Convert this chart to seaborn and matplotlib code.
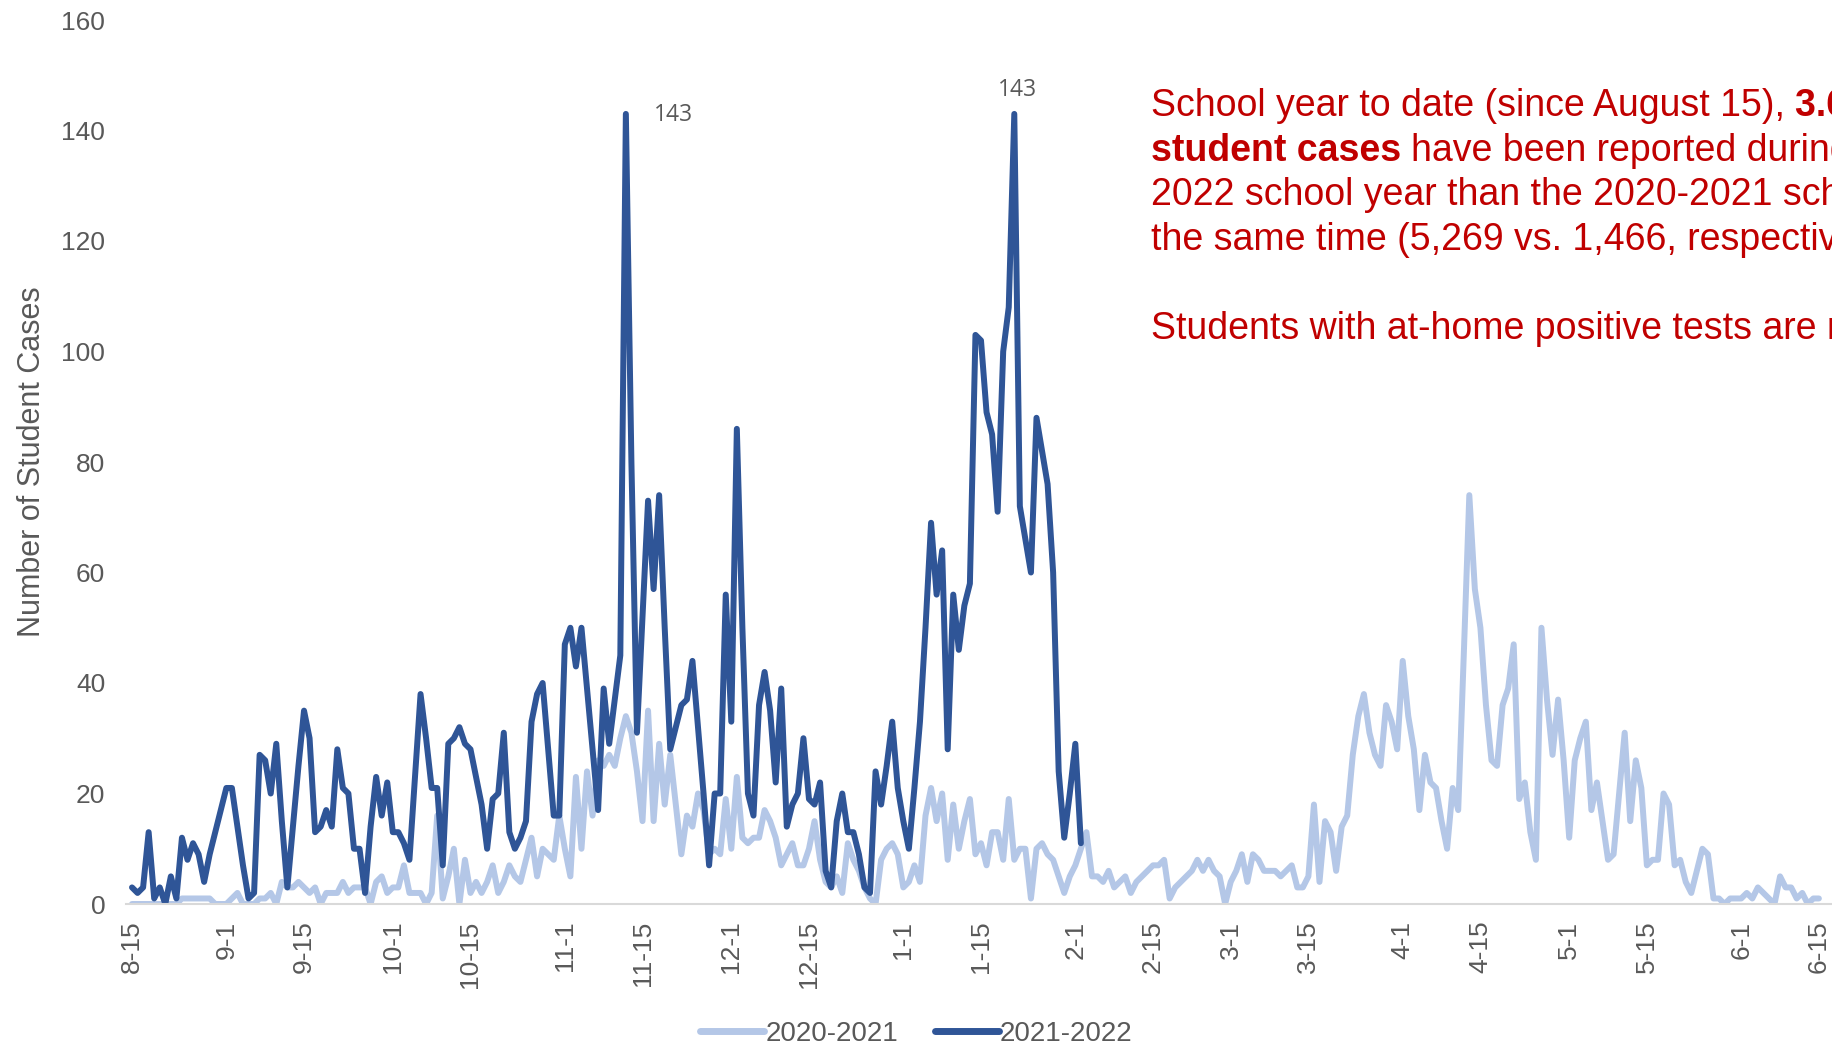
import matplotlib
matplotlib.use("Agg")
import matplotlib.pyplot as plt
import matplotlib.dates as mdates
from matplotlib.lines import Line2D
import numpy as np
import pandas as pd
import seaborn as sns

# ---------------- data ----------------
series_names = ["2020-2021", "2021-2022"]
series_colors = ["#B4C7E7", "#2F5597"]

# daily student cases, day 0 = Aug 15
cases_2020_21 = [
    0, 0, 0, 0, 0, 0, 0, 0, 0, 1,
    1, 1, 1, 1, 1, 0, 0, 0, 1, 2,
    0, 0, 0, 1, 1, 2, 0, 4, 3, 3,
    4, 3, 2, 3, 0, 2, 2, 2, 4, 2,
    3, 3, 3, 0, 4, 5, 2, 3, 3, 7,
    2, 2, 2, 0, 2, 16, 1, 5, 10, 0,
    8, 2, 4, 2, 4, 7, 2, 4, 7, 5,
    4, 8, 12, 5, 10, 9, 8, 16, 10, 5,
    23, 10, 24, 16, 26, 25, 27, 25, 30, 34,
    31, 24, 15, 35, 15, 29, 18, 27, 18, 9,
    16, 14, 20, 17, 9, 10, 9, 19, 10, 23,
    12, 11, 12, 12, 17, 15, 12, 7, 9, 11,
    7, 7, 10, 15, 8, 4, 3, 5, 2, 11,
    8, 6, 3, 1, 0, 8, 10, 11, 9, 3,
    4, 7, 4, 16, 21, 15, 20, 8, 18, 10,
    15, 19, 9, 11, 7, 13, 13, 8, 19, 8,
    10, 10, 1, 10, 11, 9, 8, 5, 2, 5,
    7, 10, 13, 5, 5, 4, 6, 3, 4, 5,
    2, 4, 5, 6, 7, 7, 8, 1, 3, 4,
    5, 6, 8, 6, 8, 6, 5, 0, 4, 6,
    9, 4, 9, 8, 6, 6, 6, 5, 6, 7,
    3, 3, 5, 18, 4, 15, 13, 6, 14, 16,
    27, 34, 38, 31, 27, 25, 36, 33, 28, 44,
    34, 28, 17, 27, 22, 21, 15, 10, 21, 17,
    45, 74, 57, 50, 36, 26, 25, 36, 39, 47,
    19, 22, 13, 8, 50, 37, 27, 37, 26, 12,
    26, 30, 33, 17, 22, 15, 8, 9, 20, 31,
    15, 26, 21, 7, 8, 8, 20, 18, 7, 8,
    4, 2, 6, 10, 9, 1, 1, 0, 1, 1,
    1, 2, 1, 3, 2, 1, 0, 5, 3, 3,
    1, 2, 0, 1, 1,
]

cases_2021_22 = [
    3, 2, 3, 13, 1, 3, 0, 5, 1, 12,
    8, 11, 9, 4, 9, 13, 17, 21, 21, 14,
    7, 1, 2, 27, 26, 20, 29, 15, 3, 14,
    25, 35, 30, 13, 14, 17, 14, 28, 21, 20,
    10, 10, 2, 14, 23, 16, 22, 13, 13, 11,
    8, 23, 38, 30, 21, 21, 7, 29, 30, 32,
    29, 28, 23, 18, 10, 19, 20, 31, 13, 10,
    12, 15, 33, 38, 40, 28, 16, 16, 47, 50,
    43, 50, 39, 28, 17, 39, 29, 37, 45, 143,
    80, 31, 52, 73, 57, 74, 50, 28, 32, 36,
    37, 44, 32, 20, 7, 20, 20, 56, 33, 86,
    50, 20, 16, 36, 42, 35, 22, 39, 14, 18,
    20, 30, 19, 18, 22, 6, 3, 15, 20, 13,
    13, 9, 3, 2, 24, 18, 25, 33, 21, 15,
    10, 21, 33, 50, 69, 56, 64, 28, 56, 46,
    54, 58, 103, 102, 89, 85, 71, 100, 108, 143,
    72, 66, 60, 88, 82, 76, 60, 24, 12, 20,
    29, 11,
]

tick_labels = ["8-15", "9-1", "9-15", "10-1", "10-15", "11-1", "11-15",
               "12-1", "12-15", "1-1", "1-15", "2-1", "2-15", "3-1", "3-15",
               "4-1", "4-15", "5-1", "5-15", "6-1", "6-15"]
y_ticks = [0, 20, 40, 60, 80, 100, 120, 140, 160]

peak_labels = ["143", "143"]
y_label = "Number of Student Cases"

text_lines = [
    [("School year to date (since August 15), ", "normal"), ("3.6 times more", "bold")],
    [("student cases", "bold"), (" have been reported during the 2021-", "normal")],
    [("2022 school year than the 2020-2021 school year at", "normal")],
    [("the same time (5,269 vs. 1,466, respectively).", "normal")],
    [],
    [("Students with at-home positive tests are not included.", "normal")],
]

# ---------------- figure ----------------
sns.set_theme(style="white")
plt.rcParams["font.family"] = ["Liberation Sans", "DejaVu Sans"]

W, H = 1833, 1048
fig = plt.figure(figsize=(W / 100, H / 100), dpi=100)
ax = fig.add_axes([126 / W, 144 / H, (W - 126) / W, 884 / H])

start = pd.Timestamp("2020-08-15")
df = pd.concat([
    pd.DataFrame({"date": pd.date_range(start, periods=len(cases_2020_21), freq="D"),
                  "cases": cases_2020_21, "season": series_names[0]}),
    pd.DataFrame({"date": pd.date_range(start, periods=len(cases_2021_22), freq="D"),
                  "cases": cases_2021_22, "season": series_names[1]}),
], ignore_index=True)

sns.lineplot(data=df, x="date", y="cases", hue="season", hue_order=series_names,
             palette=dict(zip(series_names, series_colors)), linewidth=4.3,
             estimator=None, legend=False, ax=ax)
for ln in ax.get_lines():
    ln.set_solid_joinstyle("round")
    ln.set_solid_capstyle("round")

x0 = mdates.date2num(start)
px_per_day = 5.549
ax.set_xlim(x0 - 6 / px_per_day, x0 + (W - 132) / px_per_day)
ax.set_ylim(0, 160)
ax.set_yticks(y_ticks)

tick_pos = []
for lab in tick_labels:
    m, d = (int(v) for v in lab.split("-"))
    yr = 2020 if m >= 8 else 2021
    tick_pos.append(mdates.date2num(pd.Timestamp(year=yr, month=m, day=d)))
ax.set_xticks(tick_pos)
ax.set_xticklabels(tick_labels, rotation=90)

ax.tick_params(axis="both", length=0, labelsize=19, labelcolor="#595959")
ax.tick_params(axis="x", pad=12)
ax.tick_params(axis="y", pad=15)
ax.set_xlabel("")
ax.set_ylabel(y_label, fontsize=22, color="#595959", va="center")
ax.yaxis.set_label_coords((32 - 126) / (W - 126), 0.5)

for s in ["left", "top", "right"]:
    ax.spines[s].set_visible(False)
ax.spines["bottom"].set_color("#D9D9D9")
ax.spines["bottom"].set_linewidth(1.5)
ax.grid(False)

# peak labels
s1 = int(np.argmax(cases_2021_22[:120]))
s2 = 120 + int(np.argmax(cases_2021_22[120:]))
ax.annotate(peak_labels[0], xy=(x0 + s1, cases_2021_22[s1]), xytext=(48, -1),
            textcoords="offset pixels", ha="center", va="center",
            fontsize=16.5, color="#595959", family=["Open Sans", "DejaVu Sans"])
ax.annotate(peak_labels[1], xy=(x0 + s2, cases_2021_22[s2]), xytext=(3, 24),
            textcoords="offset pixels", ha="center", va="center",
            fontsize=16.5, color="#595959", family=["Open Sans", "DejaVu Sans"])

# red commentary text (runs of normal/bold), cut by the right edge as in the source
renderer = fig.canvas.get_renderer()
FS = 27
RED = "#C00000"


def width_of(s, wt):
    t = fig.text(0, 0, s, fontsize=FS, weight=wt)
    w = t.get_window_extent(renderer).width
    t.remove()
    return w


space_w = width_of("a a", "normal") - width_of("aa", "normal")
x_start = 1151
baseline0 = 116
line_gap = 44.6
for i, runs in enumerate(text_lines):
    x = x_start
    y = baseline0 + i * line_gap
    for txt, wt in runs:
        lead = len(txt) - len(txt.lstrip(" "))
        trail = len(txt) - len(txt.rstrip(" "))
        core = txt.strip(" ")
        x += lead * space_w
        t = fig.text(x / W, 1 - y / H, core, fontsize=FS, color=RED, weight=wt,
                     ha="left", va="baseline")
        x = t.get_window_extent(renderer).x1 + trail * space_w

# legend
handles = [Line2D([0], [0], color=c, lw=5) for c in series_colors]
leg = fig.legend(handles, series_names, loc="center", bbox_to_anchor=(0.5, 14 / H),
                 ncol=2, frameon=False, fontsize=20, handlelength=2.3,
                 handletextpad=0.05, columnspacing=1.3)
for t in leg.get_texts():
    t.set_color("#595959")

fig.savefig("out.png", dpi=100)
